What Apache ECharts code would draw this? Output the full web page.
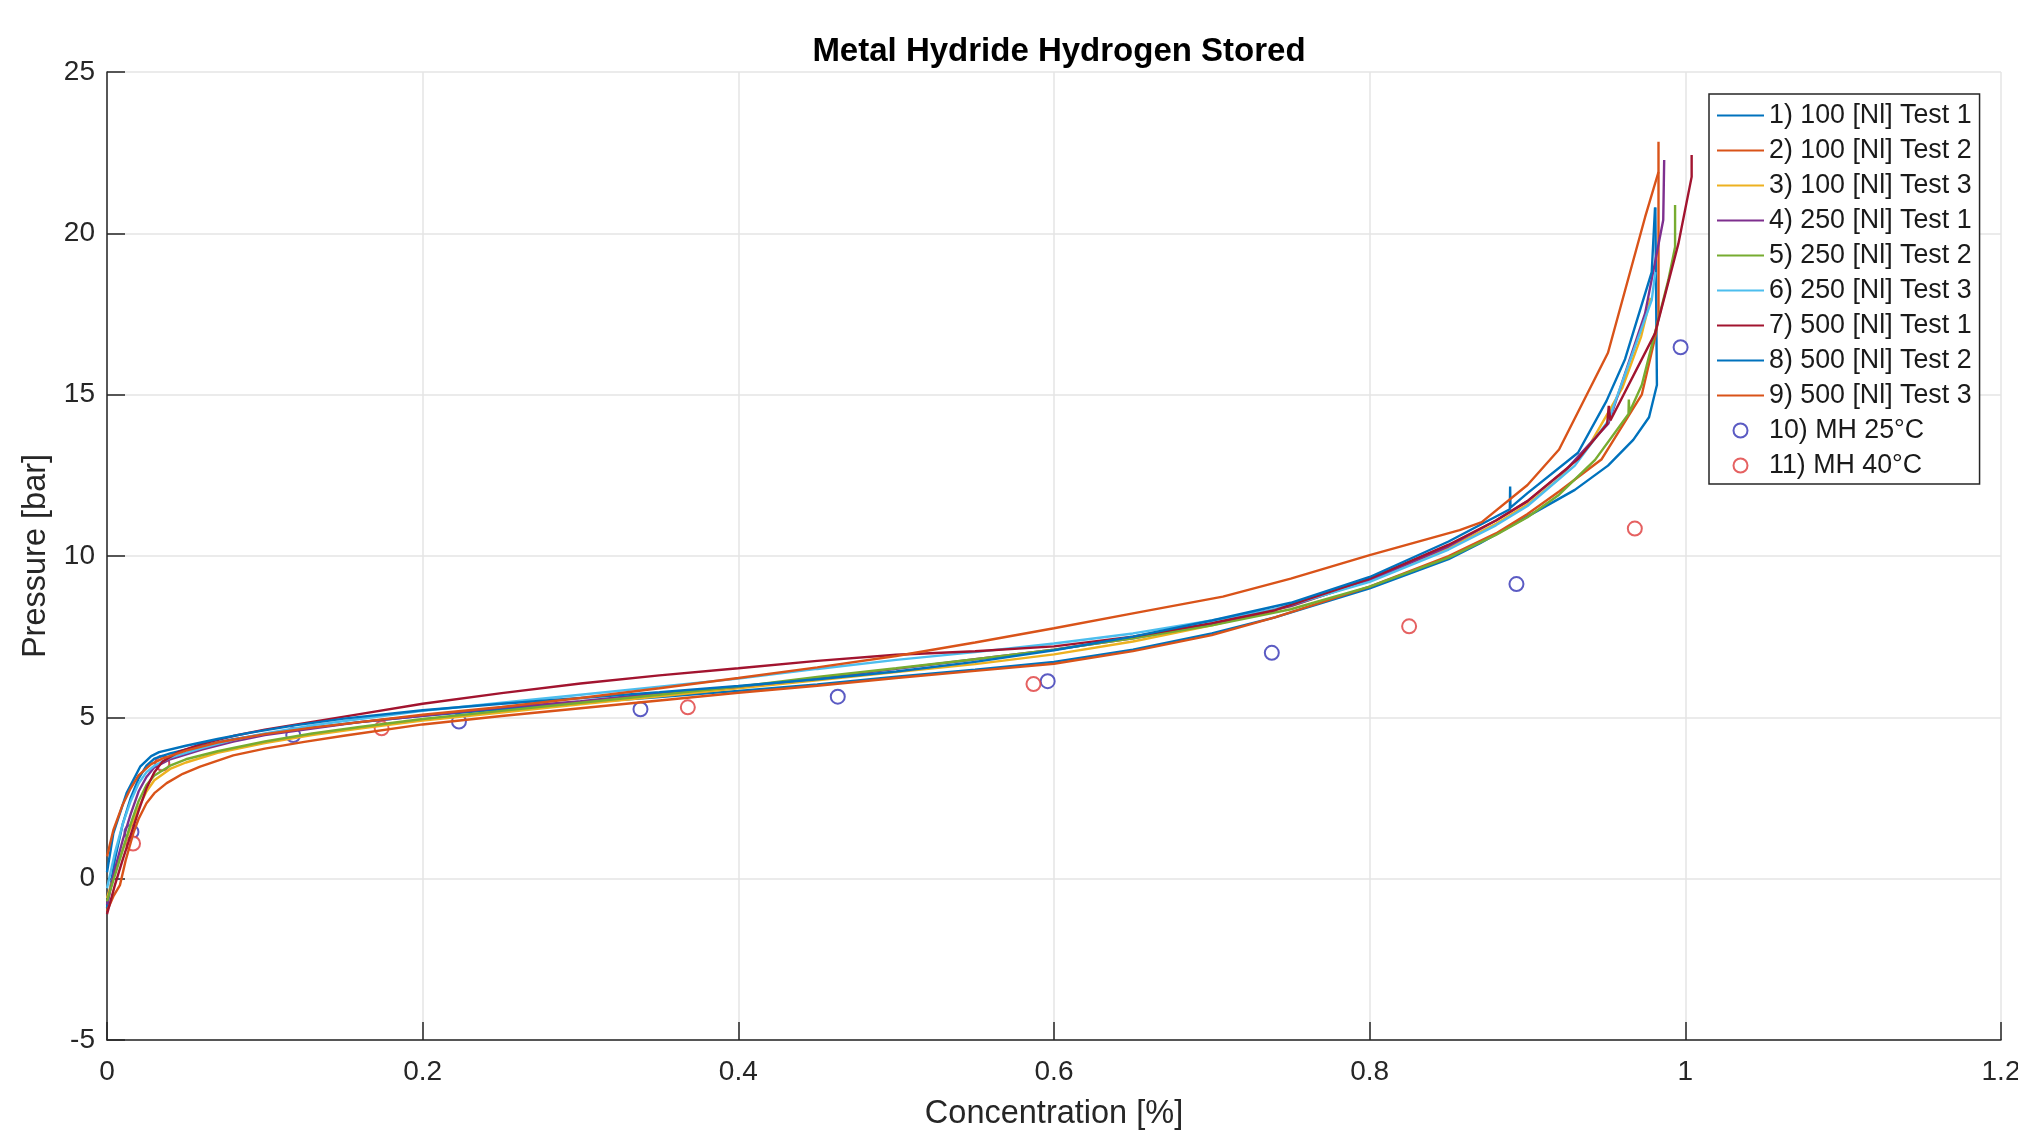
<!DOCTYPE html>
<html>
<head>
<meta charset="utf-8">
<script src="https://cdn.jsdelivr.net/npm/echarts@6/dist/echarts.min.js"></script>
<style>
html,body{margin:0;padding:0;background:#fff;}
#chart{width:2018px;height:1132px;}
</style>
</head>
<body>
<div id="chart"></div>
<script>
// ---- data (concentration [%], pressure [bar]) ----
const seriesNames = ['1) 100 [Nl] Test 1','2) 100 [Nl] Test 2','3) 100 [Nl] Test 3',
  '4) 250 [Nl] Test 1','5) 250 [Nl] Test 2','6) 250 [Nl] Test 3',
  '7) 500 [Nl] Test 1','8) 500 [Nl] Test 2','9) 500 [Nl] Test 3'];
const scatterNames = ['10) MH 25°C','11) MH 40°C'];
const lineColors = ['#0072BD','#D95319','#EDB120','#7E2F8E','#77AC30','#4DBEEE','#A2142F','#0072BD','#D95319'];

const test100_1 = [[0,-0.9],[0.005,0.6],[0.01,1.7],[0.015,2.5],[0.02,3.1],[0.025,3.5],[0.03,3.72],[0.04,3.88],[0.06,4.12],[0.08,4.32],[0.1,4.48],[0.13,4.68],[0.16,4.85],[0.2,5.05],[0.25,5.25],[0.3,5.45],[0.35,5.63],[0.4,5.82],[0.45,6.02],[0.5,6.26],[0.55,6.48],[0.6,6.72],[0.65,7.1],[0.7,7.6],[0.74,8.1],[0.8,9.0],[0.85,9.9],[0.87,10.4],[0.89,10.95],[0.91,11.5],[0.93,12.05],[0.951,12.8],[0.967,13.6],[0.977,14.3],[0.982,15.3],[0.9815,18.0],[0.981,20.8]];
const test100_2 = [[0,-1.0],[0.004,-0.55],[0.0082,-0.2],[0.012,0.6],[0.0167,1.41],[0.02,1.85],[0.025,2.34],[0.03,2.65],[0.0378,2.96],[0.048,3.25],[0.059,3.47],[0.08,3.82],[0.1,4.03],[0.125,4.24],[0.15,4.43],[0.2,4.78],[0.25,5.04],[0.3,5.28],[0.35,5.52],[0.4,5.76],[0.45,5.98],[0.5,6.22],[0.55,6.44],[0.6,6.66],[0.65,7.05],[0.7,7.55],[0.74,8.1],[0.8,9.05],[0.85,10.0],[0.88,10.7],[0.9,11.3],[0.92,12.0],[0.947,13.0],[0.9724,15.0],[0.981,16.8],[0.983,17.4],[0.983,22.84]];
const test100_3 = [[0,-0.6],[0.005,0.2],[0.01,0.9],[0.015,1.6],[0.02,2.2],[0.025,2.7],[0.03,3.05],[0.04,3.4],[0.05,3.6],[0.07,3.9],[0.1,4.2],[0.13,4.45],[0.16,4.65],[0.2,4.9],[0.25,5.15],[0.3,5.4],[0.35,5.65],[0.4,5.9],[0.45,6.15],[0.5,6.4],[0.55,6.65],[0.6,6.95],[0.65,7.35],[0.7,7.85],[0.75,8.45],[0.8,9.25],[0.85,10.25],[0.88,11.0],[0.9,11.6],[0.92,12.4],[0.94,13.5],[0.96,15.2],[0.972,16.8],[0.978,18.0]];
const test250_1 = [[0,-0.8],[0.005,0.3],[0.01,1.2],[0.015,2.0],[0.02,2.7],[0.025,3.15],[0.03,3.45],[0.04,3.7],[0.06,4.0],[0.08,4.25],[0.1,4.45],[0.13,4.65],[0.16,4.85],[0.2,5.05],[0.25,5.3],[0.3,5.5],[0.35,5.75],[0.4,5.95],[0.45,6.2],[0.5,6.5],[0.55,6.8],[0.6,7.1],[0.65,7.45],[0.7,7.9],[0.75,8.45],[0.8,9.25],[0.85,10.3],[0.88,11.1],[0.9,11.7],[0.925,12.7],[0.9513,14.11],[0.9745,17.52],[0.986,20.41],[0.9866,22.27]];
const test250_2 = [[0,-0.7],[0.005,0.1],[0.01,0.9],[0.015,1.7],[0.02,2.4],[0.025,2.9],[0.03,3.2],[0.04,3.5],[0.05,3.7],[0.07,3.95],[0.1,4.25],[0.13,4.5],[0.16,4.7],[0.2,4.95],[0.25,5.2],[0.3,5.45],[0.35,5.7],[0.4,5.95],[0.45,6.25],[0.5,6.52],[0.55,6.8],[0.6,7.1],[0.65,7.45],[0.7,7.85],[0.75,8.35],[0.8,9.05],[0.85,9.95],[0.88,10.65],[0.9,11.2],[0.92,11.9],[0.9428,12.98],[0.964,14.4],[0.9642,14.85],[0.9645,14.45],[0.9724,15.3],[0.9892,18.55],[0.9935,19.58],[0.9935,20.88]];
const test250_3 = [[0,-0.3],[0.005,0.8],[0.01,1.7],[0.015,2.4],[0.02,2.95],[0.025,3.3],[0.03,3.5],[0.04,3.75],[0.06,4.05],[0.08,4.3],[0.1,4.5],[0.13,4.75],[0.16,4.95],[0.2,5.2],[0.25,5.45],[0.3,5.7],[0.35,5.95],[0.4,6.2],[0.45,6.5],[0.5,6.78],[0.55,7.02],[0.6,7.29],[0.65,7.6],[0.7,8.0],[0.74,8.35],[0.8,9.2],[0.85,10.2],[0.88,10.95],[0.9,11.55],[0.93,12.8],[0.9513,14.2],[0.9787,17.93],[0.981,18.8]];
const test500_1 = [[0,-1.1],[0.005,-0.2],[0.01,0.6],[0.015,1.35],[0.02,2.1],[0.025,2.8],[0.03,3.3],[0.035,3.62],[0.045,3.92],[0.06,4.18],[0.08,4.42],[0.1,4.62],[0.13,4.86],[0.16,5.1],[0.2,5.42],[0.25,5.75],[0.3,6.05],[0.35,6.3],[0.4,6.52],[0.45,6.75],[0.5,6.94],[0.55,7.05],[0.6,7.2],[0.65,7.5],[0.7,7.92],[0.74,8.32],[0.8,9.3],[0.85,10.35],[0.88,11.1],[0.9,11.7],[0.932,13.0],[0.9505,14.1],[0.9515,14.65],[0.9525,14.2],[0.9808,16.9],[0.9956,19.68],[1.004,21.75],[1.004,22.43]];
const test500_2 = [[0,0.2],[0.004,1.4],[0.0124,2.65],[0.021,3.47],[0.028,3.8],[0.033,3.92],[0.05,4.12],[0.07,4.33],[0.09,4.52],[0.12,4.76],[0.15,4.96],[0.2,5.22],[0.25,5.42],[0.3,5.6],[0.35,5.78],[0.4,5.97],[0.45,6.18],[0.5,6.42],[0.55,6.72],[0.6,7.08],[0.65,7.5],[0.7,8.0],[0.75,8.55],[0.8,9.35],[0.85,10.45],[0.8888,11.45],[0.889,12.15],[0.8892,11.5],[0.9,11.95],[0.932,13.2],[0.95,14.8],[0.9618,16.1],[0.9787,18.8],[0.9808,20.8]];
const test500_3 = [[0,0.69],[0.004,1.5],[0.01,2.3],[0.015,2.8],[0.02,3.2],[0.028,3.55],[0.035,3.72],[0.05,3.97],[0.07,4.22],[0.1,4.48],[0.13,4.68],[0.16,4.85],[0.2,5.08],[0.25,5.32],[0.3,5.6],[0.35,5.9],[0.4,6.22],[0.45,6.55],[0.5,6.9],[0.55,7.32],[0.6,7.76],[0.65,8.22],[0.707,8.74],[0.75,9.3],[0.8,10.03],[0.857,10.8],[0.871,11.05],[0.9,12.2],[0.92,13.3],[0.951,16.3],[0.9745,20.5],[0.983,21.9]];
const mh25 = [[0.0155,1.45],[0.035,3.59],[0.118,4.45],[0.223,4.87],[0.338,5.25],[0.463,5.64],[0.596,6.12],[0.738,7.0],[0.893,9.13],[0.997,16.47]];
const mh40 = [[0.0165,1.09],[0.035,3.57],[0.174,4.66],[0.368,5.31],[0.587,6.03],[0.825,7.82],[0.968,10.85]];

const lineData = [test100_1,test100_2,test100_3,test250_1,test250_2,test250_3,test500_1,test500_2,test500_3];
const xTicks = {min:0, max:1.2, interval:0.2};
const yTicks = {min:-5, max:25, interval:5};

const FONT = 'Liberation Sans, Arial, Helvetica, sans-serif';
const AX = '#262626';

const series = lineData.map((d,i)=>({
  name: seriesNames[i], type:'line', data:d, symbol:'none', showSymbol:false,
  lineStyle:{color:lineColors[i], width:2.4}, itemStyle:{color:lineColors[i]},
  animation:false, silent:true
}));
series.push({name:scatterNames[0], type:'scatter', data:mh25, symbol:'emptyCircle', symbolSize:14,
  itemStyle:{color:'#3232b4', borderColor:'#3232b4', borderWidth:1.6}, animation:false, silent:true});
series.push({name:scatterNames[1], type:'scatter', data:mh40, symbol:'emptyCircle', symbolSize:14,
  itemStyle:{color:'#de3a3a', borderColor:'#de3a3a', borderWidth:1.6}, animation:false, silent:true});

const legendData = seriesNames.map(n=>({name:n, itemStyle:{opacity:0}}))
  .concat(scatterNames.map(n=>({name:n})));

const chart = echarts.init(document.getElementById('chart'), null, {renderer:'canvas'});
chart.setOption({
  backgroundColor:'#ffffff',
  animation:false,
  title:{text:'Metal Hydride Hydrogen Stored', left:1054, top:30, textAlign:'center',
    textStyle:{fontFamily:FONT, fontSize:33, fontWeight:'bold', color:'#000', lineHeight:33}},
  grid:{left:107, top:72, right:17, bottom:92, containLabel:false, outerBoundsMode:'none'},
  legend:{
    orient:'vertical', left:1709, top:94, padding:[8,8,5,7],
    itemWidth:47, itemHeight:14, itemGap:8,
    backgroundColor:'#ffffff', borderColor:AX, borderWidth:1.5, borderRadius:0,
    textStyle:{fontFamily:FONT, fontSize:26.8, lineHeight:26, color:'#1a1a1a'},
    data: legendData,
    selectedMode:false
  },
  xAxis:{type:'value', min:xTicks.min, max:xTicks.max, interval:xTicks.interval,
    name:'Concentration [%]', nameLocation:'middle', nameGap:58,
    nameTextStyle:{fontFamily:FONT, fontSize:32.5, color:AX},
    axisLine:{onZero:false, lineStyle:{color:AX, width:1.5}},
    axisTick:{inside:true, length:18, lineStyle:{color:AX, width:1.5}},
    axisLabel:{fontFamily:FONT, fontSize:28, color:AX, margin:18},
    splitLine:{show:true, lineStyle:{color:'#e4e4e4', width:1.5}}},
  yAxis:{type:'value', min:yTicks.min, max:yTicks.max, interval:yTicks.interval,
    name:'Pressure [bar]', nameLocation:'middle', nameGap:52, nameRotate:90,
    nameTextStyle:{fontFamily:FONT, fontSize:32.5, color:AX},
    axisLine:{onZero:false, lineStyle:{color:AX, width:1.5}},
    axisTick:{inside:true, length:18, lineStyle:{color:AX, width:1.5}},
    axisLabel:{fontFamily:FONT, fontSize:28, color:AX, margin:12},
    splitLine:{show:true, lineStyle:{color:'#e4e4e4', width:1.5}}},
  series: series
});
</script>
</body>
</html>
